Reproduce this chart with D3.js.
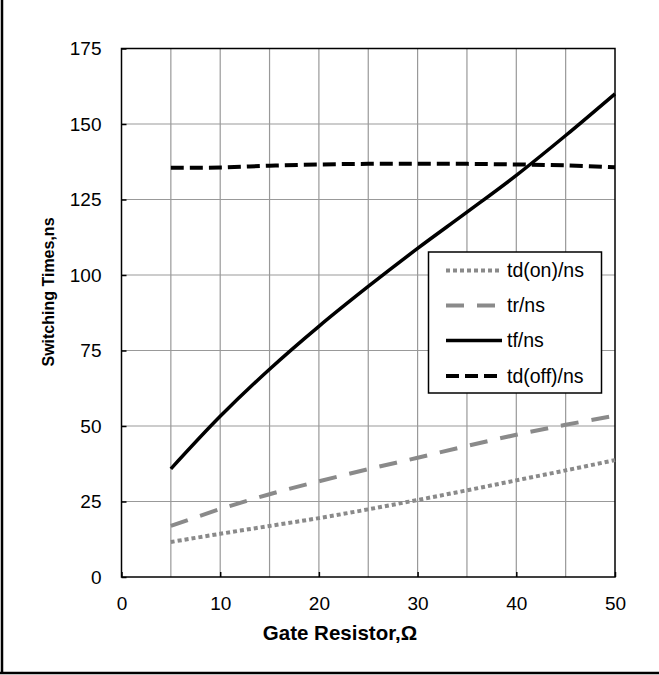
<!DOCTYPE html>
<html>
<head>
<meta charset="utf-8">
<script src="https://cdn.jsdelivr.net/npm/d3@7"></script>
<style>
  body { margin: 0; background: #fff; }
  svg text { font-family: "Liberation Sans", Arial, sans-serif; fill: #000; }
</style>
</head>
<body>
<svg width="659" height="675"></svg>
<script>
// gate resistor values (ohm)
var rg = [5, 10, 15, 20, 25, 30, 35, 40, 45, 50];
// switching times, ns
var tdOn = [11.6, 14.3, 16.9, 19.5, 22.4, 25.5, 28.7, 32.0, 35.3, 38.7];
var tr = [16.9, 22.5, 27.4, 31.7, 35.7, 39.5, 43.4, 47.1, 50.4, 53.4];
var tf = [35.8, 53.2, 68.8, 83.0, 96.2, 108.8, 120.8, 133.0, 146.2, 160.0];
var tdOff = [135.5, 135.6, 136.2, 136.6, 136.8, 136.8, 136.8, 136.6, 136.3, 135.7];

var seriesNames = ['td(on)/ns', 'tr/ns', 'tf/ns', 'td(off)/ns'];
var xTicks = [0, 10, 20, 30, 40, 50];
var yTicks = [0, 25, 50, 75, 100, 125, 150, 175];

var svg = d3.select('svg');
var plotLeft = 121.5, plotTop = 48.5, plotW = 493.5, plotH = 528.5;

var x = d3.scaleLinear().domain([0, 50]).range([plotLeft, plotLeft + plotW]);
var y = d3.scaleLinear().domain([0, 175]).range([plotTop + plotH, plotTop]);

// outer frame (left + bottom only visible)
svg.append('line').attr('x1', 2).attr('x2', 2).attr('y1', 0).attr('y2', 674)
  .attr('stroke', '#000').attr('stroke-width', 2.5);
svg.append('line').attr('x1', 0).attr('x2', 659).attr('y1', 673).attr('y2', 673)
  .attr('stroke', '#000').attr('stroke-width', 2.5);

// grid
var grid = svg.append('g');
grid.selectAll('.vg').data(d3.range(5, 50, 5)).enter().append('line')
  .attr('x1', function(d) { return x(d); }).attr('x2', function(d) { return x(d); })
  .attr('y1', plotTop).attr('y2', plotTop + plotH)
  .attr('stroke', '#999').attr('stroke-width', 1.2);
grid.selectAll('.hg').data(yTicks.slice(1, -1)).enter().append('line')
  .attr('y1', function(d) { return y(d); }).attr('y2', function(d) { return y(d); })
  .attr('x1', plotLeft).attr('x2', plotLeft + plotW)
  .attr('stroke', '#999').attr('stroke-width', 1.2);

// axes with inward ticks
var xAxis = d3.axisBottom(x).tickValues(xTicks).tickSize(-5).tickPadding(20);
var yAxis = d3.axisLeft(y).tickValues(yTicks).tickSize(-5).tickPadding(20);

var gx = svg.append('g').attr('transform', 'translate(0,' + (plotTop + plotH) + ')').call(xAxis);
var gy = svg.append('g').attr('transform', 'translate(' + plotLeft + ',0)').call(yAxis);
[gx, gy].forEach(function(g) {
  g.select('.domain').remove();
  g.selectAll('.tick line').attr('stroke', '#000').attr('stroke-width', 1.5);
  g.selectAll('.tick text').style('font-size', '19px').attr('fill', '#000');
});

// plot border
svg.append('rect').attr('x', plotLeft).attr('y', plotTop).attr('width', plotW).attr('height', plotH)
  .attr('fill', 'none').attr('stroke', '#000').attr('stroke-width', 1.5);

// series
var styles = [
  { data: tdOn, color: '#8a8a8a', width: 4, dash: '4,3' },
  { data: tr, color: '#8a8a8a', width: 4, dash: '18,13' },
  { data: tf, color: '#000', width: 3.5, dash: null },
  { data: tdOff, color: '#000', width: 4, dash: '13,6' }
];

var line = d3.line()
  .x(function(d) { return x(d[0]); })
  .y(function(d) { return y(d[1]); })
  .curve(d3.curveCatmullRom);

styles.forEach(function(s) {
  svg.append('path')
    .datum(rg.map(function(r, i) { return [r, s.data[i]]; }))
    .attr('d', line)
    .attr('fill', 'none')
    .attr('stroke', s.color)
    .attr('stroke-width', s.width)
    .attr('stroke-dasharray', s.dash);
});

// legend
var lg = svg.append('g');
lg.append('rect').attr('x', 428.5).attr('y', 252).attr('width', 173).attr('height', 141)
  .attr('fill', '#fff').attr('stroke', '#000').attr('stroke-width', 1.5);
var rowY = [270.5, 305.5, 340.5, 376];
seriesNames.forEach(function(name, i) {
  var s = styles[i];
  lg.append('line').attr('x1', 446).attr('x2', 502).attr('y1', rowY[i]).attr('y2', rowY[i])
    .attr('stroke', s.color).attr('stroke-width', s.width).attr('stroke-dasharray', s.dash);
  lg.append('text').attr('x', 507).attr('y', rowY[i]).attr('dy', '0.35em')
    .style('font-size', '19.5px').text(name);
});

// axis titles
svg.append('text').attr('x', 340).attr('y', 640).attr('text-anchor', 'middle')
  .style('font-size', '20.5px').style('font-weight', 'bold').text('Gate Resistor,\u03a9');
svg.append('text').attr('transform', 'translate(48,292) rotate(-90)')
  .attr('text-anchor', 'middle').attr('dy', '0.35em')
  .style('font-size', '16px').style('font-weight', 'bold').text('Switching Times,ns');
</script>
</body>
</html>
